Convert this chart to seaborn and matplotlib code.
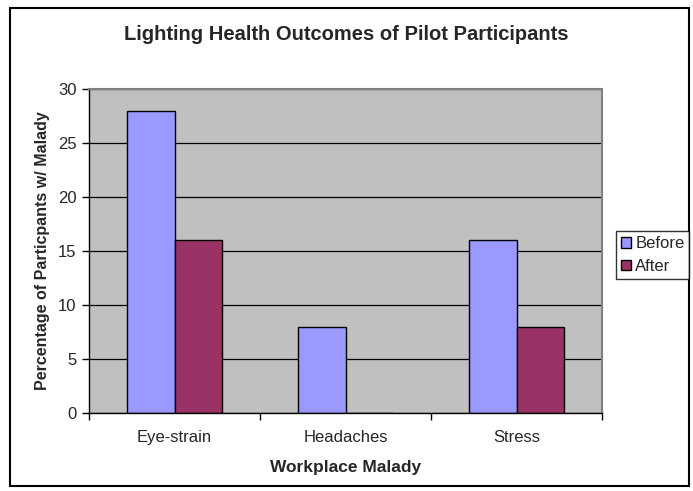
import matplotlib
matplotlib.use("Agg")
import matplotlib.pyplot as plt
import matplotlib.patches as mpatches
import pandas as pd
import seaborn as sns

# Data
categories = ["Eye-strain", "Headaches", "Stress"]
before = [28, 8, 16]
after = [16, 0, 8]
series = ["Before", "After"]
colors = ["#9999FF", "#993366"]

df = pd.DataFrame({
    "Malady": categories * 2,
    "Value": before + after,
    "When": [series[0]] * 3 + [series[1]] * 3,
})

sns.set_style("white")
plt.rcParams["font.family"] = ["Liberation Sans", "DejaVu Sans"]

fig = plt.figure(figsize=(6.93, 4.91), dpi=100)
ax = fig.add_axes([89 / 693, 1 - 413 / 491, (602 - 89) / 693, (413 - 89) / 491])

sns.barplot(data=df, x="Malady", y="Value", hue="When", palette=colors,
            width=0.56, edgecolor="black", linewidth=1, saturation=1,
            ax=ax, legend=False)

ax.set_facecolor("#C0C0C0")
ax.set_ylim(0, 30)
ax.set_xlim(-0.5, 2.5)
ax.set_yticks(range(0, 31, 5))
ax.yaxis.grid(True, color="black", linewidth=0.9)
ax.set_axisbelow(True)

for side in ["top", "right"]:
    ax.spines[side].set_color("#808080")
    ax.spines[side].set_linewidth(1.5)
for side in ["left", "bottom"]:
    ax.spines[side].set_color("black")
    ax.spines[side].set_linewidth(1)

ax.tick_params(axis="y", which="major", length=5, width=1, direction="out",
               left=True, labelsize=12, pad=4, color="black")
ax.tick_params(axis="x", which="major", length=0, labelsize=12, pad=12)
ax.set_xticks([-0.5, 0.5, 1.5, 2.5], minor=True)
ax.tick_params(axis="x", which="minor", length=5, width=1, bottom=True, color="black")

ax.set_xlabel("Workplace Malady", fontsize=12.5, fontweight="bold", labelpad=11)
ax.set_ylabel("Percentage of Particpants w/ Malady", fontsize=11.5,
              fontweight="bold", labelpad=6)

fig.suptitle("Lighting Health Outcomes of Pilot Participants", fontsize=14.5,
             fontweight="bold", y=1 - 34 / 491, va="center")

handles = [mpatches.Patch(facecolor=c, edgecolor="black", label=s)
           for c, s in zip(colors, series)]
leg = fig.legend(handles=handles, loc="center left",
                 bbox_to_anchor=(616 / 693, 1 - 255 / 491), frameon=True,
                 fancybox=False, fontsize=12, handlelength=0.6, handleheight=0.6,
                 handletextpad=0.25, borderpad=0.3, labelspacing=0.45,
                 borderaxespad=0)
leg.get_frame().set_edgecolor("black")
leg.get_frame().set_linewidth(1)

# outer chart border
fig.patches.append(mpatches.Rectangle((10 / 693, 1 - 486 / 491), 679 / 693, 478 / 491,
                                      transform=fig.transFigure, fill=False,
                                      edgecolor="black", linewidth=1.5))

fig.savefig("out.png", dpi=100, facecolor="white")
